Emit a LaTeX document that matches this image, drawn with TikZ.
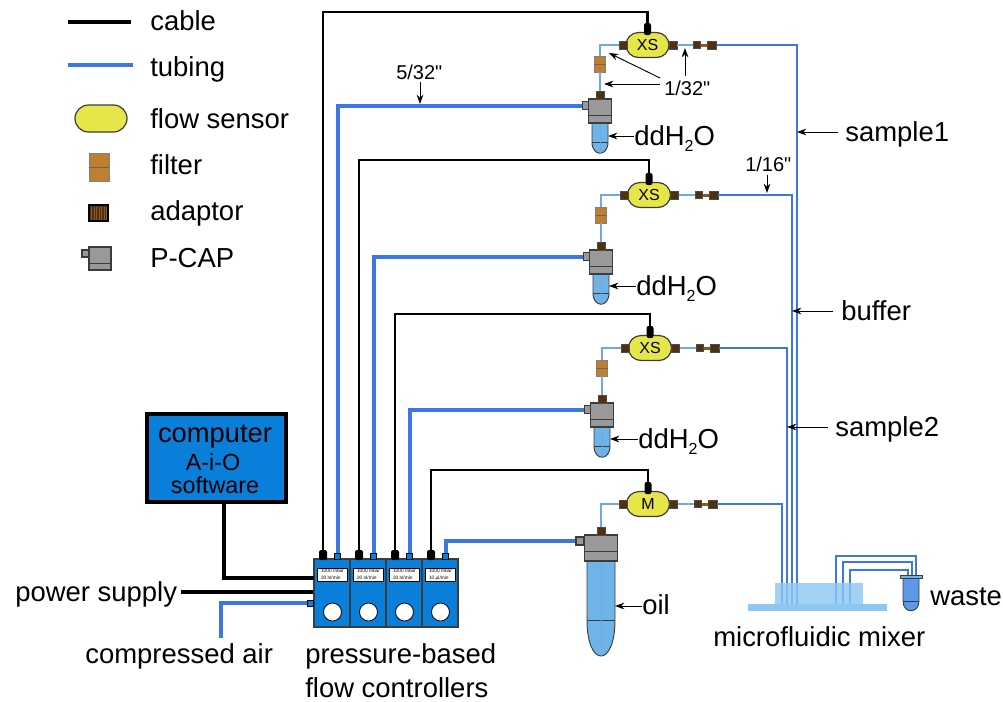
\documentclass[tikz,border=0pt]{standalone}
\usepackage{fontspec}
\setmainfont{Liberation Sans}
\newfontfamily\qfont{Liberation Sans}
\usetikzlibrary{shapes.misc,arrows.meta}
\definecolor{tubeblue}{HTML}{3C78E0}
\definecolor{thinblue}{HTML}{6FA6EC}
\definecolor{ctrlblue}{HTML}{0A7FD9}
\definecolor{sensorfill}{HTML}{E6E64A}
\definecolor{filterfill}{HTML}{C07F2E}
\definecolor{adaptfill}{HTML}{4F3110}
\definecolor{capgray}{HTML}{999999}
\definecolor{vesselblue}{HTML}{6EB4E6}
\definecolor{mixblue}{HTML}{8CC8F2}
\definecolor{edgegray}{HTML}{3C3C3C}
\newcommand{\lab}[1]{\fontsize{20.6}{24}\selectfont #1}
\newcommand{\smalllab}[1]{\qfont\fontsize{15}{18}\selectfont #1}
\newcommand{\ddw}{\lab{ddH\raisebox{-0.22em}{\fontsize{12}{15}\selectfont 2}O}}
\tikzset{
  cable/.style={draw=black,line width=3.2pt,line join=miter},
  thincable/.style={draw=black,line width=2pt},
  thicktube/.style={draw=tubeblue,line width=3pt},
  longtube/.style={draw=tubeblue,line width=1.2pt},
  thintube/.style={draw=thinblue,line width=1.2pt},
  arr/.style={draw=black,line width=.7pt,-{Stealth[length=7pt,width=5pt]}},
  txt/.style={anchor=base west,inner sep=0pt,text=black},
  sensor/.style={rounded rectangle,draw=edgegray,line width=.9pt,fill=sensorfill,inner sep=0pt,minimum width=43*.75pt,minimum height=25*.75pt},
  filterbox/.style={rectangle,draw=gray,line width=.6pt,fill=filterfill,inner sep=0pt,minimum width=11*.75pt,minimum height=16*.75pt},
  adaptbox/.style={rectangle,draw=black!70,line width=.4pt,fill=adaptfill,inner sep=0pt,minimum width=8*.75pt,minimum height=8*.75pt},
  capbox/.style={rectangle,draw=edgegray,line width=.8pt,fill=capgray,inner sep=0pt},
  plug/.style={rounded corners=1.6pt,rectangle,fill=black,inner sep=0pt,minimum width=7*.75pt,minimum height=12*.75pt},
  module/.style={rectangle,draw=edgegray,line width=.9pt,fill=ctrlblue,inner sep=0pt,minimum width=36*.75pt,minimum height=68*.75pt},
  readout/.style={rectangle,draw=black,line width=.4pt,fill=white,inner sep=0pt,minimum width=30*.75pt,minimum height=13*.75pt,align=left,font=\fontsize{3.6}{5}\selectfont},
  dial/.style={circle,draw=black,line width=.6pt,fill=white,inner sep=0pt,minimum size=18*.75pt},
  port/.style={rectangle,draw=black,line width=.6pt,fill=ctrlblue,inner sep=0pt,minimum size=6*.75pt},
  vessel/.style={draw=edgegray,line width=.7pt,fill=vesselblue},
  mixer/.style={rectangle,fill=mixblue,fill opacity=.82,inner sep=0pt},
}
% station: sensor with plug and adaptors
\newcommand{\station}[4]{%
\begin{scope}[shift={(#2,#3)}]
  \node[sensor] (s#1) at (0,0) {\fontsize{12}{15}\selectfont #4};
  \node[plug] (st#1) at (0,-16) {};
  \node[adaptbox] (sl#1) at (-24.5,0) {};
  \node[adaptbox] (sr#1) at (25.5,0) {};
  \node[adaptbox,minimum width=7*.75pt,minimum height=7*.75pt] (aa#1) at (49.5,0) {};
  \node[rectangle,fill=filterfill!70!black,inner sep=0pt,minimum width=7*.75pt,minimum height=3*.75pt] (ab#1) at (57,0) {};
  \node[adaptbox,minimum width=9*.75pt] (ac#1) at (64.5,0) {};
\end{scope}
\draw[thintube] (sr#1.east) -- (aa#1.west);
}
% water bottle with P-CAP and filter
\newcommand{\bottle}[3]{%
\begin{scope}[shift={(#2,#3)}]
  \filldraw[vessel] (-8,24) -- (-8,43) .. controls (-8,58) and (8,58) .. (8,43) -- (8,24) -- cycle;
  \draw[edgegray,line width=.4pt] (-8,43) -- (8,43);
  \draw[thinblue,line width=.4pt] (0,24) -- (0,54);
  \coordinate (ve#1) at (8,38);
  \node[capbox,minimum width=23*.75pt,minimum height=24*.75pt] (b#1) at (0,12) {};
  \draw[edgegray,line width=.6pt] (-11.5,16) -- (11.5,16);
  \node[adaptbox] (ta#1) at (0,-3.5) {};
  \node[capbox,minimum width=6*.75pt,minimum height=8*.75pt] (st#1x) at (-14.5,6.5) {};
  \node[filterbox] (f#1) at (0,-35) {};
  \draw[gray!80!black,line width=.4pt] (f#1.west) -- (f#1.east);
\end{scope}
\draw[thintube] (sl#1.west) -| (f#1.north);
\draw[thintube] (f#1.south) -- (ta#1.north);
}
% one controller module
\newcommand{\ctrl}[3]{%
\begin{scope}[shift={(#2,559)}]
  \node[module] (mod#1) at (18,34) {};
  \node[readout] (rd#1) at (18.5,15.5) {1000 mbar\\#3};
  \node[dial] (dl#1) at (18.5,53) {};
  \node[plug,minimum width=8*.75pt,minimum height=10*.75pt] (c#1) at (9,-4) {};
  \node[port] (p#1) at (23.5,-3) {};
\end{scope}
}
\begin{document}
\begin{tikzpicture}[x=.75pt,y=-.75pt]
\useasboundingbox (0,0) rectangle (1003,701);

% legend
\coordinate (lc1) at (68,22); \coordinate (lc2) at (131,22);
\coordinate (lt1) at (68,65); \coordinate (lt2) at (133,65);
\draw[cable] (lc1) -- (lc2);
\draw[thicktube] (lt1) -- (lt2);
\node[sensor,minimum width=52*.75pt,minimum height=27*.75pt] (lsensor) at (101,118.5) {};
\node[filterbox,minimum width=20*.75pt,minimum height=28*.75pt] (lfilter) at (99,167) {};
\draw[gray!80!black,line width=.5pt] (lfilter.west) -- (lfilter.east);
\node[adaptbox,draw=black,line width=.8pt,minimum width=19*.75pt,minimum height=16*.75pt] (ladapt) at (98.5,213) {};
\foreach \k in {91.5,94,96.5,99,101.5,104,106}{\draw[filterfill!70!black,line width=.4pt] (\k,206.5) -- (\k,219.5);}
\node[capbox,minimum width=22*.75pt,minimum height=23*.75pt] (lcap) at (100,258.5) {};
\draw[edgegray,line width=.6pt] (89,263) -- (111,263);
\node[capbox,minimum width=7*.75pt,minimum height=7*.75pt] (lstub) at (85.5,253.5) {};
\node[txt] (tcable) at (150,30) {\lab{cable}};
\node[txt] (ttubing) at (150,76) {\lab{tubing}};
\node[txt] (tsensor) at (150,128) {\lab{flow sensor}};
\node[txt] (tfilter) at (150,174) {\lab{filter}};
\node[txt] (tadapt) at (150,220) {\lab{adaptor}};
\node[txt] (tcap) at (150,267) {\lab{P-CAP}};

% controllers
\ctrl{1}{314}{20 nl/min}
\ctrl{2}{350}{20 nl/min}
\ctrl{3}{386}{20 nl/min}
\ctrl{4}{422}{10 µl/min}

% computer
\node[rectangle,draw=black,line width=2.6pt,fill=ctrlblue,inner sep=0pt,minimum width=139*.75pt,minimum height=88*.75pt] (comp) at (216.5,458) {};
\node[txt,anchor=base] (tcomp) at (215,442) {\fontsize{20.5}{24}\selectfont computer};
\node[txt,anchor=base] (taio) at (213,470) {\fontsize{17.5}{20}\selectfont A-i-O};
\node[txt,anchor=base] (tsoft) at (215,493) {\fontsize{17.5}{20}\selectfont software};
\coordinate (cout) at (224,503);
\coordinate (cin) at (314,578);
\draw[cable] (cout) |- (cin);
\node[txt] (tpower) at (15,601) {\lab{power supply}};
\draw[cable] ([shift={(4,-9)}]tpower.base east) coordinate (pw) -- (pw -| mod1.west);
\node[port] (airp) at (310.5,603) {};
\coordinate (airin) at (221,638);
\draw[thicktube] (airin) |- (airp.west);
\node[txt] (tair) at (85,663) {\lab{compressed air}};
\node[txt] (tpb) at (305,663) {\lab{pressure-based}};
\node[txt] (tfc) at (305,697) {\lab{flow controllers}};

% stations
\station{1}{647.5}{45}{XS}
\station{2}{649}{195}{XS}
\station{3}{650}{348}{XS}
\station{4}{648}{504}{M}
\bottle{1}{600}{99}
\bottle{2}{601}{250}
\bottle{3}{602}{403}

% oil bottle
\filldraw[vessel] (587,561) -- (587,620) .. controls (587,668) and (615,668) .. (615,620) -- (615,561) -- cycle;
\draw[edgegray,line width=.4pt] (587,620) -- (615,620);
\draw[thinblue,line width=.4pt] (601,561) -- (601,656);
\coordinate (ve4) at (615,606);
\node[capbox,minimum width=33*.75pt,minimum height=26*.75pt] (b4) at (601,548) {};
\draw[edgegray,line width=.6pt] (584.5,551) -- (617.5,551);
\node[adaptbox] (ta4) at (601,531.5) {};
\node[capbox,minimum width=8*.75pt,minimum height=8*.75pt] (st4x) at (580,541) {};
\draw[thintube] (sl4.west) -| (ta4.north);

% cables
\coordinate (k1) at (647.5,12);
\coordinate (k2) at (649,160);
\coordinate (k3) at (650,314);
\coordinate (k4) at (648,470);
\draw[thincable] (c1.north) |- (k1) -- (st1.north);
\draw[thincable] (c2.north) |- (k2) -- (st2.north);
\draw[thincable] (c3.north) |- (k3) -- (st3.north);
\draw[thincable] (c4.north) |- (k4) -- (st4.north);

% thick tubing
\draw[thicktube] (p1.north) |- (st1x.west);
\draw[thicktube] (p2.north) |- (st2x.west);
\draw[thicktube] (p3.north) |- (st3x.west);
\draw[thicktube] (p4.north) |- (st4x.west);

% long tubing to mixer
\coordinate (m1) at (797,604);
\coordinate (m2) at (792,604);
\coordinate (m3) at (787,604);
\coordinate (m4) at (782,604);
\draw[longtube] (ac1.east) -| (m1);
\draw[longtube] (ac2.east) -| (m2);
\draw[longtube] (ac3.east) -| (m3);
\draw[longtube] (ac4.east) -| (m4);

% mixer outlets
\coordinate (w1) at (836,604); \coordinate (w2) at (843,604); \coordinate (w3) at (850,604);
\coordinate (r1) at (916,556); \coordinate (r2) at (912,562); \coordinate (r3) at (908,570);
\coordinate (d1) at (916,576); \coordinate (d2) at (912,576); \coordinate (d3) at (908,576);
\draw[longtube] (w1) |- (r1) -- (d1);
\draw[longtube] (w2) |- (r2) -- (d2);
\draw[longtube] (w3) |- (r3) -- (d3);
\coordinate (me) at (853,604);
\draw[draw=tubeblue!70!black,line width=.5pt] (m4) -- (me);

% mixer
\node[mixer,anchor=north west,minimum width=88*.75pt,minimum height=21*.75pt] (mixtop) at (775,583) {};
\node[mixer,fill opacity=1,anchor=north west,minimum width=139*.75pt,minimum height=7*.75pt] (mixbase) at (748,604) {};
\node[txt] (tmixer) at (713,646) {\lab{microfluidic mixer}};

% waste
\filldraw[draw=edgegray,line width=.7pt,fill=vesselblue!85!blue] (903,578) -- (903,601) .. controls (903,614) and (919,614) .. (919,601) -- (919,578) -- cycle;
\draw[edgegray,line width=.4pt] (903,601) -- (919,601);
\node[rectangle,draw=edgegray,line width=.6pt,fill=vesselblue,inner sep=0pt,minimum width=22*.75pt,minimum height=3*.75pt] (wcap) at (911,576.5) {};
\node[txt] (twaste) at (930,605) {\lab{waste}};

% labels with arrows
\node[txt] (tdd1) at (634,145) {\ddw};
\node[txt] (tdd2) at (636,295) {\ddw};
\node[txt] (tdd3) at (638,448) {\ddw};
\node[txt] (toil) at (642,614) {\lab{oil}};
\draw[arr] ([shift={(0,-9)}]tdd1.base west) coordinate (a1) -- (a1 -| ve1);
\draw[arr] ([shift={(0,-9)}]tdd2.base west) coordinate (a2) -- (a2 -| ve2);
\draw[arr] ([shift={(0,-9)}]tdd3.base west) coordinate (a3) -- (a3 -| ve3);
\draw[arr] ([shift={(0,-8)}]toil.base west) coordinate (a4) -- (a4 -| ve4);
\node[txt] (ts1) at (845,141) {\lab{sample1}};
\node[txt] (tbuf) at (841,320) {\lab{buffer}};
\node[txt] (ts2) at (835,436) {\lab{sample2}};
\draw[arr] ([shift={(-7,-9)}]ts1.base west) coordinate (a5) -- (a5 -| m1);
\draw[arr] ([shift={(-8,-9)}]tbuf.base west) coordinate (a6) -- (a6 -| m2);
\draw[arr] ([shift={(-7,-9)}]ts2.base west) coordinate (a7) -- (a7 -| m3);
\node[txt] (t532) at (396,79) {\smalllab{5/32"}};
\node[txt] (t116) at (745,171) {\smalllab{1/16"}};
\node[txt] (t132) at (664,95) {\smalllab{1/32"}};
\coordinate (h1) at (420,104);
\coordinate (h2) at (767,193);
\coordinate (h3) at (685,48);
\coordinate (h4) at (609,53);
\coordinate (h5) at (604,84);
\coordinate (g1) at (420,82);
\coordinate (g2) at (767,175);
\coordinate (g3) at (685,76);
\coordinate (g4) at (660,78);
\coordinate (g5) at (660,84);
\draw[arr] (g1) -- (h1);
\draw[arr] (g2) -- (h2);
\draw[arr] (g3) -- (h3);
\draw[arr] (g4) -- (h4);
\draw[arr] (g5) -- (h5);
\end{tikzpicture}
\end{document}
